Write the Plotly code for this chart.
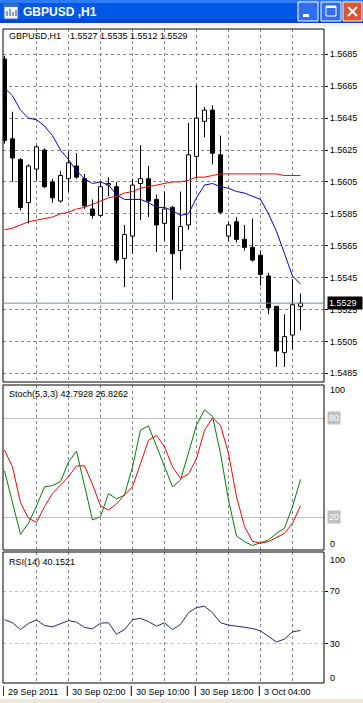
import plotly.graph_objects as go
from plotly.subplots import make_subplots

# ---------------- data ----------------
bars = list(range(38))
open_ = [1.5682, 1.5632, 1.5619, 1.5592, 1.5613, 1.5625, 1.5605, 1.5593, 1.5607, 1.5615,
         1.5607, 1.5588, 1.5584, 1.5603, 1.5602, 1.5557, 1.5571, 1.5604, 1.5607, 1.5594,
         1.5579, 1.5589, 1.5562, 1.5578, 1.5621, 1.5643, 1.5650, 1.5622, 1.5571, 1.5580,
         1.5569, 1.5564, 1.5559, 1.5546, 1.5527, 1.5498, 1.5509, 1.5527]
high = [1.5684, 1.5649, 1.5620, 1.5616, 1.5628, 1.5626, 1.5607, 1.5612, 1.5624, 1.5623,
        1.5610, 1.5594, 1.5605, 1.5608, 1.5605, 1.5578, 1.5607, 1.5628, 1.5615, 1.5597,
        1.5599, 1.5590, 1.5599, 1.5642, 1.5666, 1.5652, 1.5653, 1.5634, 1.5580, 1.5583,
        1.5578, 1.5582, 1.5562, 1.5548, 1.5527, 1.5522, 1.5544, 1.5535]
low = [1.5629, 1.5605, 1.5587, 1.5579, 1.5606, 1.5601, 1.5592, 1.5592, 1.5599, 1.5607,
       1.5588, 1.5582, 1.5583, 1.5596, 1.5554, 1.5539, 1.5560, 1.5581, 1.5583, 1.5561,
       1.5568, 1.5531, 1.5550, 1.5575, 1.5607, 1.5633, 1.5616, 1.5585, 1.5568, 1.5567,
       1.5562, 1.5555, 1.5540, 1.5522, 1.5489, 1.5489, 1.5500, 1.5512]
close = [1.5631, 1.5620, 1.5589, 1.5615, 1.5627, 1.5602, 1.5595, 1.5609, 1.5617, 1.5608,
         1.5590, 1.5584, 1.5602, 1.5604, 1.5556, 1.5572, 1.5603, 1.5607, 1.5593, 1.5578,
         1.5588, 1.5560, 1.5577, 1.5622, 1.5645, 1.5650, 1.5623, 1.5586, 1.5578, 1.5569,
         1.5564, 1.5556, 1.5547, 1.5526, 1.5499, 1.5508, 1.5528, 1.5529]
ma_blue = [1.5664, 1.5659, 1.5650, 1.5645, 1.5644, 1.5640, 1.5634, 1.5625, 1.5619, 1.5612,
           1.5607, 1.5604, 1.5605, 1.5603, 1.5597, 1.5594, 1.5594, 1.5594, 1.5592, 1.5589,
           1.5589, 1.5587, 1.5584, 1.5585, 1.5595, 1.5603, 1.5604, 1.5602, 1.5601, 1.5599,
           1.5598, 1.5596, 1.5594, 1.5585, 1.5574, 1.5560, 1.5546, 1.5541]
ma_red = [1.5575, 1.5576, 1.5578, 1.5580, 1.5581, 1.5582, 1.5583, 1.5585, 1.5586, 1.5588,
          1.5589, 1.5591, 1.5593, 1.5595, 1.5596, 1.5598, 1.5599, 1.5601, 1.5602, 1.5603,
          1.5604, 1.5605, 1.5605, 1.5606, 1.5608, 1.5608, 1.5609, 1.5610, 1.5610, 1.5610,
          1.5610, 1.5610, 1.5610, 1.5610, 1.5610, 1.5609, 1.5609, 1.5609]
stoch_main = [48.0, 29.0, 9.5, 16.2, 26.7, 38.3, 39.1, 41.4, 53.4, 59.9,
              39.3, 18.2, 20.2, 34.3, 30.9, 33.3, 50.4, 72.6, 75.2, 62.5,
              50.4, 38.3, 42.4, 58.5, 75.6, 85.0, 81.0, 58.5, 30.3, 8.5,
              5.1, 2.7, 4.5, 6.1, 10.1, 13.2, 26.3, 42.79]
stoch_signal = [60.5, 50.4, 28.7, 19.2, 16.8, 26.3, 34.3, 39.3, 44.4, 51.0,
                51.0, 39.7, 26.7, 24.2, 27.9, 33.3, 38.3, 52.4, 66.5, 69.5,
                62.5, 50.4, 43.4, 46.0, 55.4, 72.6, 80.0, 75.6, 58.5, 32.3,
                14.2, 5.3, 4.1, 5.1, 7.7, 10.1, 16.2, 26.83]
rsi = [48.3, 46.0, 40.8, 45.5, 48.1, 43.9, 42.9, 45.5, 47.6, 46.5,
       42.4, 41.4, 45.7, 46.0, 37.2, 40.8, 48.3, 49.4, 46.8, 43.4,
       46.0, 40.8, 44.7, 53.7, 57.6, 58.6, 53.7, 46.0, 44.2, 43.4,
       42.6, 41.6, 39.8, 35.7, 31.3, 33.6, 39.0, 40.15]
price_ticks = [1.5485, 1.5505, 1.5525, 1.5545, 1.5565, 1.5585, 1.5605, 1.5625, 1.5645, 1.5665, 1.5685]
grid_bars = [4, 8, 12, 16, 20, 24, 28, 32, 36]
date_bars = [0, 8, 16, 24, 32]
date_labels = ["29 Sep 2011", "30 Sep 02:00", "30 Sep 10:00", "30 Sep 18:00", "3 Oct 04:00"]
symbol = "GBPUSD,H1"
stoch_header = [42.7928, 26.8262]
rsi_header = 40.1521

# ---------------- geometry helpers ----------------
W, H = 363, 703
ML, MR, MT, MB = 3, 39, 29, 20
PW, PH = W - ML - MR, H - MT - MB
def px(x):
    return (x - ML) / PW
def py(y):
    return (MT + PH - y) / PH

FONT = "Liberation Sans"
GRID = "#778899"

fig = make_subplots(rows=3, cols=1, shared_xaxes=True, vertical_spacing=0.0)

# wicks (outside the body)
wx, wy = [], []
for i in bars:
    top = max(open_[i], close[i])
    bot = min(open_[i], close[i])
    wx += [i, i, None, i, i, None]
    wy += [high[i], top, None, bot, low[i], None]
fig.add_trace(go.Scatter(x=wx, y=wy, mode="lines", line=dict(color="black", width=1),
                         hoverinfo="skip"), row=1, col=1)

up = [i for i in bars if close[i] >= open_[i]]
dn = [i for i in bars if close[i] < open_[i]]
fig.add_trace(go.Bar(x=up, y=[close[i] - open_[i] for i in up], base=[open_[i] for i in up],
                     width=0.5, marker=dict(color="white", line=dict(color="black", width=1))),
              row=1, col=1)
fig.add_trace(go.Bar(x=dn, y=[open_[i] - close[i] for i in dn], base=[close[i] for i in dn],
                     width=0.5, marker=dict(color="black", line=dict(color="black", width=1))),
              row=1, col=1)
fig.add_trace(go.Scatter(x=bars, y=ma_blue, mode="lines", line=dict(color="#0000E0", width=1)), row=1, col=1)
fig.add_trace(go.Scatter(x=bars, y=ma_red, mode="lines", line=dict(color="#FF0000", width=1)), row=1, col=1)

fig.add_trace(go.Scatter(x=bars, y=stoch_main, mode="lines", line=dict(color="#008000", width=1)), row=2, col=1)
fig.add_trace(go.Scatter(x=bars, y=stoch_signal, mode="lines", line=dict(color="#FF0000", width=1)), row=2, col=1)
fig.add_trace(go.Scatter(x=bars, y=rsi, mode="lines", line=dict(color="#24247F", width=1)), row=3, col=1)

r0 = -1.5 / 8
r1 = r0 + PW / 8
fig.update_xaxes(range=[r0, r1], tickvals=grid_bars, showgrid=True, gridcolor=GRID, gridwidth=1,
                 griddash="3px,3px", showticklabels=False, ticks="", zeroline=False, showline=False)

fig.update_layout(
    width=W, height=H, margin=dict(l=ML, r=MR, t=MT, b=MB, pad=0),
    paper_bgcolor="white", plot_bgcolor="white", barmode="overlay", showlegend=False,
    font=dict(family=FONT, size=9, color="black"),
    yaxis=dict(domain=[py(382), 1.0], range=[1.547955, 1.570086], side="right",
               tickvals=price_ticks, ticktext=[f"{v:.4f}" for v in price_ticks],
               ticks="outside", ticklen=3, tickcolor="black", showgrid=True, gridcolor=GRID,
               griddash="3px,3px", gridwidth=1, zeroline=False, showline=False,
               tickfont=dict(family=FONT, size=9, color="black")),
    yaxis2=dict(domain=[py(550), py(385)], range=[0, 100], tickvals=[20, 80], showgrid=True,
                gridcolor="#C0C0C0", gridwidth=1, showticklabels=False, ticks="",
                zeroline=False, showline=False),
    yaxis3=dict(domain=[0.0, py(552)], range=[0, 100], side="right", tickvals=[30, 70],
                ticktext=["30", "70"], ticks="outside", ticklen=3, tickcolor="black",
                showgrid=True, gridcolor="#C0C0C0", griddash="3px,3px", gridwidth=1,
                zeroline=False, showline=False,
                tickfont=dict(family=FONT, size=9, color="black")),
)

shapes = []
# panel frames
for xr, yr in [("x", "y"), ("x2", "y2"), ("x3", "y3")]:
    shapes.append(dict(type="rect", xref=f"{xr} domain", yref=f"{yr} domain", x0=0, x1=1, y0=0, y1=1,
                       line=dict(color="black", width=1), layer="above"))
# current price line
shapes.append(dict(type="line", xref="x domain", yref="y", x0=0, x1=1, y0=close[-1], y1=close[-1],
                   line=dict(color=GRID, width=1), layer="above"))
# date ticks
for b in date_bars:
    shapes.append(dict(type="line", xref="x3", yref="paper", x0=b - 0.15, x1=b - 0.15,
                       y0=py(686), y1=py(696), line=dict(color="black", width=1)))
# window title bar
def prect(x0, y0, x1, y1, fill, line=None, lw=0):
    return dict(type="rect", xref="paper", yref="paper", x0=px(x0), x1=px(x1), y0=py(y1), y1=py(y0),
                fillcolor=fill, line=dict(color=line or fill, width=lw), layer="above")
def pline(x0, y0, x1, y1, color, lw):
    return dict(type="line", xref="paper", yref="paper", x0=px(x0), x1=px(x1), y0=py(y0), y1=py(y1),
                line=dict(color=color, width=lw), layer="above")
shapes.append(prect(0, 0, 363, 23, "#0058E6"))
shapes.append(prect(0, 0, 363, 3, "#2F7CF8"))
shapes.append(prect(0, 19, 363, 23, "#0047CE"))
shapes.append(prect(0, 23, 363, 27, "#F4F3EE"))
# icon
shapes.append(prect(4, 4, 18, 19, "#F4F8FF", "#3C6CC4", 1))
shapes.append(prect(4, 4, 18, 7, "#3C6CC4"))
shapes.append(pline(7, 16, 7, 11, "#1E4CA0", 1))
shapes.append(pline(10, 16, 10, 9, "#1E4CA0", 1))
shapes.append(pline(13, 16, 13, 12, "#1E4CA0", 1))
shapes.append(pline(16, 16, 16, 10, "#1E4CA0", 1))
# buttons
shapes.append(prect(298, 2, 318, 21, "#2F6EEE", "white", 1))
shapes.append(prect(303, 14, 309, 17, "white"))
shapes.append(prect(321, 2, 341, 21, "#2F6EEE", "white", 1))
shapes.append(prect(326, 6, 336, 16, "rgba(0,0,0,0)", "white", 1))
shapes.append(prect(326, 6, 336, 8, "white"))
shapes.append(prect(343, 2, 362, 21, "#E2532D", "white", 1))
shapes.append(pline(348, 7, 357, 16, "white", 2))
shapes.append(pline(357, 7, 348, 16, "white", 2))
# bottom strip
shapes.append(prect(0, 699, 363, 703, "#ECE9D8"))
fig.update_layout(shapes=shapes)

ann = []
def note(text, x, y, anchor="left", color="black", size=9, bg=None, bold=False, **kw):
    d = dict(text=f"<b>{text}</b>" if bold else text, xref="paper", yref="paper", x=px(x), y=py(y),
             xanchor=anchor, yanchor="middle", showarrow=False,
             font=dict(family=FONT, size=size, color=color))
    if bg:
        d.update(bgcolor=bg, borderpad=1)
    d.update(kw)
    ann.append(d)

note("GBPUSD ,H1", 21, 12, color="white", size=12, bold=True)
note(symbol, 7, 36.5)
note(" ".join(f"{v:.4f}" for v in [open_[-1], high[-1], low[-1], close[-1]]), 68, 36.5)
note(f"Stoch(5,3,3) {stoch_header[0]:.4f} {stoch_header[1]:.4f}", 7, 394)
note(f"RSI(14) {rsi_header:.4f}", 7, 562)
note("100", 328, 390)
note("0", 328, 544)
note("80", 327, 418, color="white", bg="#C0C0C0")
note("20", 327, 517, color="white", bg="#C0C0C0")
note("100", 328, 560)
note("0", 328, 678)
# current price label
ann.append(dict(text=f"{close[-1]:.4f}", xref="paper", yref="y", x=px(327), y=close[-1],
                xanchor="left", yanchor="middle", showarrow=False, bgcolor="black",
                borderpad=1, width=32, align="left",
                font=dict(family=FONT, size=9, color="white")))
for b, t in zip(date_bars, date_labels):
    ann.append(dict(text=t, xref="x3", yref="paper", x=b, y=py(692), xanchor="left",
                    yanchor="middle", xshift=1, showarrow=False,
                    font=dict(family=FONT, size=9, color="black")))
fig.update_layout(annotations=ann)

fig.write_html("out.html", config={"displayModeBar": False},
               post_script="document.body.style.margin='0';document.body.style.overflow='hidden';")
